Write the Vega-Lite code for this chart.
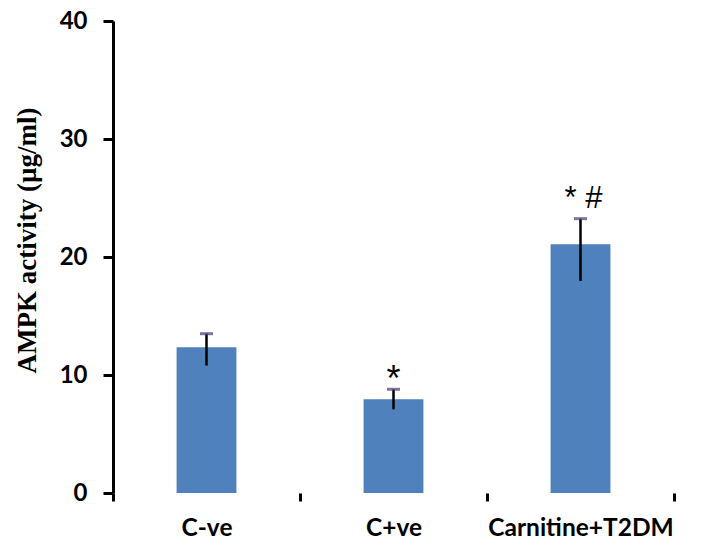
{
  "$schema": "https://vega.github.io/schema/vega-lite/v6.json",
  "width": 589,
  "height": 472,
  "autosize": "none",
  "padding": {"left": 113, "top": 21, "right": 0, "bottom": 50},
  "background": "white",
  "config": {"view": {"stroke": null}},
  "data": {
    "values": [
      {"group": "C-ve", "mean": 12.35, "lo": 10.8, "hi": 13.5, "sig": ""},
      {"group": "C+ve", "mean": 7.94, "lo": 7.09, "hi": 8.79, "sig": "*"},
      {"group": "Carnitine+T2DM", "mean": 21.08, "lo": 17.97, "hi": 23.25, "sig": "* #"}
    ]
  },
  "encoding": {
    "x": {
      "field": "group",
      "type": "nominal",
      "sort": null,
      "scale": {"range": [0, 561], "paddingInner": 0, "paddingOuter": 0},
      "axis": {
        "title": null,
        "domain": false,
        "tickBand": "extent",
        "tickColor": "black",
        "tickWidth": 3,
        "tickSize": 8,
        "labelAngle": 0,
        "labelLimit": 0,
        "labelFont": "Lato",
        "labelFontWeight": "bold",
        "labelFontSize": 24.5,
        "labelColor": "black",
        "labelPadding": 15
      }
    }
  },
  "layer": [
    {
      "mark": {"type": "bar", "color": "#4F81BD", "width": {"band": 0.32}},
      "encoding": {
        "y": {
          "field": "mean",
          "type": "quantitative",
          "scale": {"domain": [0, 40], "nice": false},
          "axis": {
            "values": [0, 10, 20, 30, 40],
            "grid": false,
            "domainColor": "black",
            "domainWidth": 3,
            "tickColor": "black",
            "tickWidth": 3,
            "tickSize": 10,
            "labelFont": "Lato",
            "labelFontWeight": "bold",
            "labelFontSize": 24,
            "labelColor": "black",
            "labelPadding": 16,
            "title": "AMPK activity (µg/ml)",
            "titleFont": "Liberation Serif",
            "titleFontWeight": "bold",
            "titleFontSize": 27,
            "titleColor": "black",
            "titleAngle": -90,
            "titleAlign": "center",
            "titleBaseline": "middle",
            "titleX": -86,
            "titleY": 219
          }
        }
      }
    },
    {
      "mark": {"type": "rule", "color": "black", "strokeWidth": 2.5},
      "encoding": {
        "y": {"field": "lo", "type": "quantitative"},
        "y2": {"field": "hi"}
      }
    },
    {
      "mark": {"type": "tick", "color": "#4b3b70", "thickness": 3, "size": 13},
      "encoding": {
        "y": {"field": "hi", "type": "quantitative"}
      }
    },
    {
      "transform": [{"filter": "datum.sig == '*'"}],
      "mark": {"type": "text", "font": "Liberation Sans", "fontSize": 36, "color": "black", "baseline": "alphabetic", "dy": 2},
      "encoding": {
        "y": {"field": "hi", "type": "quantitative"},
        "text": {"field": "sig"}
      }
    },
    {
      "transform": [{"filter": "datum.sig == '* #'"}],
      "mark": {"type": "text", "font": "Liberation Sans", "fontSize": 31, "color": "black", "baseline": "alphabetic", "dy": -11, "dx": 3},
      "encoding": {
        "y": {"field": "hi", "type": "quantitative"},
        "text": {"field": "sig"}
      }
    },
    {
      "mark": {"type": "rule", "color": "black", "strokeWidth": 3},
      "encoding": {
        "y": {"datum": 0}
      }
    }
  ]
}
